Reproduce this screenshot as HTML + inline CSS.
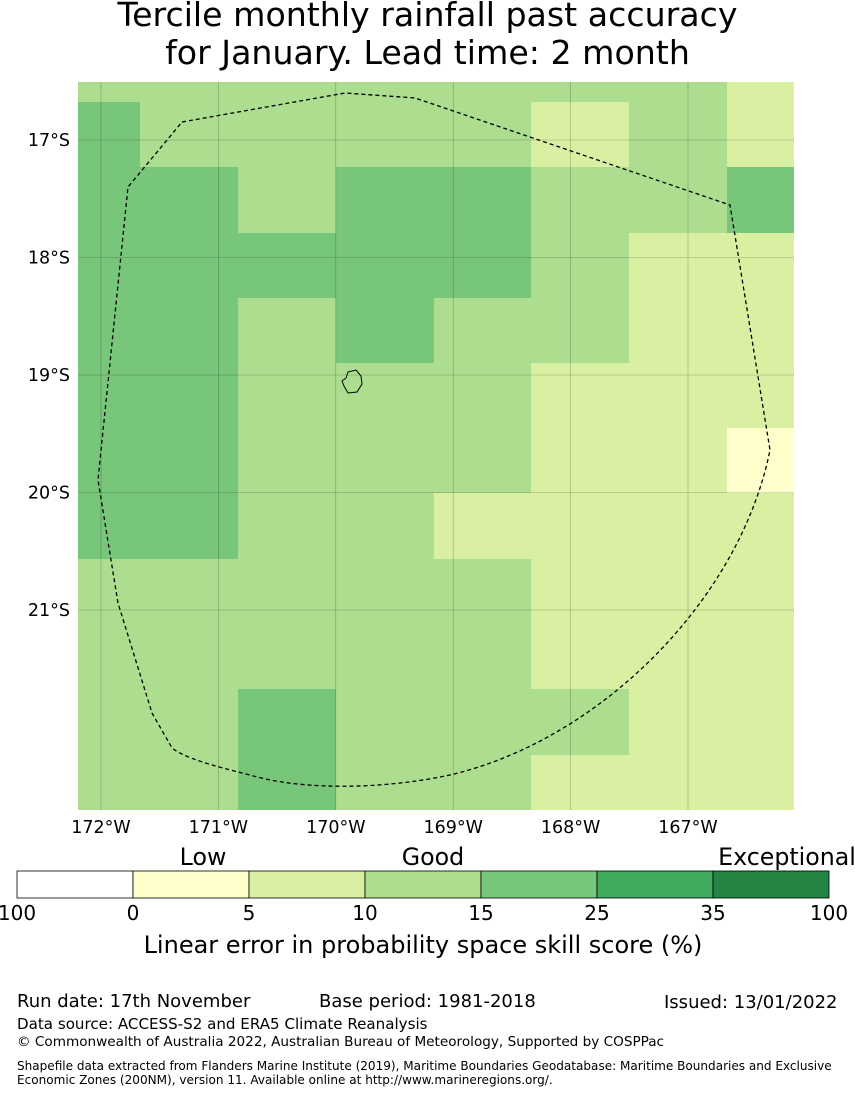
<!DOCTYPE html>
<html><head><meta charset="utf-8"><style>
body{margin:0;background:#fff;font-family:"DejaVu Sans","Liberation Sans",sans-serif;}
#c{position:relative;width:855px;height:1095px;overflow:hidden;}
.t{position:absolute;white-space:nowrap;color:#000;}
</style></head><body>
<div id="c">
<div class="t" style="left:0;width:855px;text-align:center;top:-4px;font-size:33.2px;line-height:38px;">Tercile monthly rainfall past accuracy<br>for January. Lead time: 2 month</div>
<svg id="s" width="855" height="1095" style="position:absolute;left:0;top:0"></svg>
</div>
<script>
const lonTicks=[-172,-171,-170,-169,-168,-167];
const latTicks=[-17,-18,-19,-20,-21];
const cbBounds=[100,0,5,10,15,25,35,100];
const cbColors=["#ffffff","#ffffcc","#d9f0a3","#addd8e","#78c679","#41ab5d","#238443"];
const cbWords=["Low","Good","Exceptional"];
// skill values per cell (rows top->bottom, cols west->east)
const grid=[
[12,12,12,12,12,12,12,7],
[20,12,12,12,12,7,12,7],
[20,20,12,20,20,12,12,20],
[20,20,20,20,20,12,7,7],
[20,20,12,20,12,12,7,7],
[20,20,12,12,12,7,7,7],
[20,20,12,12,12,7,7,3],
[20,20,12,12,7,7,7,7],
[12,12,12,12,12,7,7,7],
[12,12,12,12,12,7,7,7],
[12,12,20,12,12,12,7,7],
[12,12,20,12,12,7,7,7]];
const ns="http://www.w3.org/2000/svg",s=document.getElementById('s');
function el(t,a,p){const e=document.createElementNS(ns,t);for(const k in a)e.setAttribute(k,a[k]);(p||s).appendChild(e);return e;}
const X0=78,X1=794,Y0=82,Y1=810;
const lonX=l=>101+(l+172)*117.4;
const latY=l=>140+(-17-l)*117.5;
function color(v){const th=[0,5,10,15,25,35];let i=0;for(let k=0;k<th.length;k++)if(v>=th[k])i=k;return cbColors[i+1];}
const colEdges=[78,140,238,336,434,531,629,727,794];
const rowEdges=[82,102,167,233,298,363,428,493,559,624,689,755,810];
const g=el('g',{});


grid.forEach((row,r)=>row.forEach((v,c)=>{
 const rc=el('rect',{x:colEdges[c],y:rowEdges[r],width:colEdges[c+1]-colEdges[c],height:rowEdges[r+1]-rowEdges[r],fill:color(v)},g);
 
 
}));
lonTicks.forEach(l=>{const x=lonX(l);
 const ln=el('line',{x1:x,x2:x,y1:Y0,y2:Y1,stroke:'#000','stroke-opacity':0.3,'stroke-width':0.6});
 
 
 const t=el('text',{x:x,y:833,'text-anchor':'middle','font-size':17.5});t.textContent=(-l)+'°W';
 
 
});
latTicks.forEach(l=>{const y=latY(l);
 const ln=el('line',{x1:X0,x2:X1,y1:y,y2:y,stroke:'#000','stroke-opacity':0.3,'stroke-width':0.6});
 
 
 const t=el('text',{x:70,y:y+6,'text-anchor':'end','font-size':17.5});t.textContent=(-l)+'°S';
 
 
});
const eez=el('path',{d:'M182,122 L345,93 L415,98 L730,205 L770,450 C740,600 600,740 450,775 C380,790 300,790 250,775 C210,765 185,758 172,748 L152,713 L118,603 L98,480 L128,187 Z',fill:'none',stroke:'#000','stroke-width':1.3,'stroke-dasharray':'4,3'});


const isl=el('path',{d:'M348,372 L356,370 L361,376 L362,384 L357,392 L348,393 L344,386 L342,381 L346,378 Z',fill:'none',stroke:'#000','stroke-width':1});


const cbX0=17,cbW=812/7;
cbColors.forEach((c,i)=>{const r=el('rect',{x:cbX0+i*cbW,y:871,width:cbW,height:27,fill:c,stroke:'#000','stroke-width':0.8});
 
 });
cbBounds.forEach((b,i)=>{const t=el('text',{x:cbX0+i*cbW,y:920,'text-anchor':'middle','font-size':20});t.textContent=b;
 
 });
[[203,'middle'],[433,'middle'],[787,'middle']].forEach((p,i)=>{const t=el('text',{x:p[0],y:865,'text-anchor':p[1],'font-size':23.7});t.textContent=cbWords[i];
 
 });
function txt(x,y,fs,str,name){const t=el('text',{x:x,y:y,'font-size':fs});t.textContent=str;
 
 return t;}
const ct=txt(423,953,24,'Linear error in probability space skill score (%)','colorbar-title');ct.setAttribute('text-anchor','middle');
txt(17,1007,18,'Run date: 17th November','run-date');
txt(319,1007,18,'Base period: 1981-2018','base-period');
txt(664,1008,18,'Issued: 13/01/2022','issued-date');
txt(17,1029,15.1,'Data source: ACCESS-S2 and ERA5 Climate Reanalysis','data-source');
txt(17,1046,13.6,'© Commonwealth of Australia 2022, Australian Bureau of Meteorology, Supported by COSPPac','copyright');
txt(17,1070,12.05,'Shapefile data extracted from Flanders Marine Institute (2019), Maritime Boundaries Geodatabase: Maritime Boundaries and Exclusive','shapefile-note');
txt(17,1084,12.05,'Economic Zones (200NM), version 11. Available online at http://www.marineregions.org/.','shapefile-note-2');
</script>
</body></html>
